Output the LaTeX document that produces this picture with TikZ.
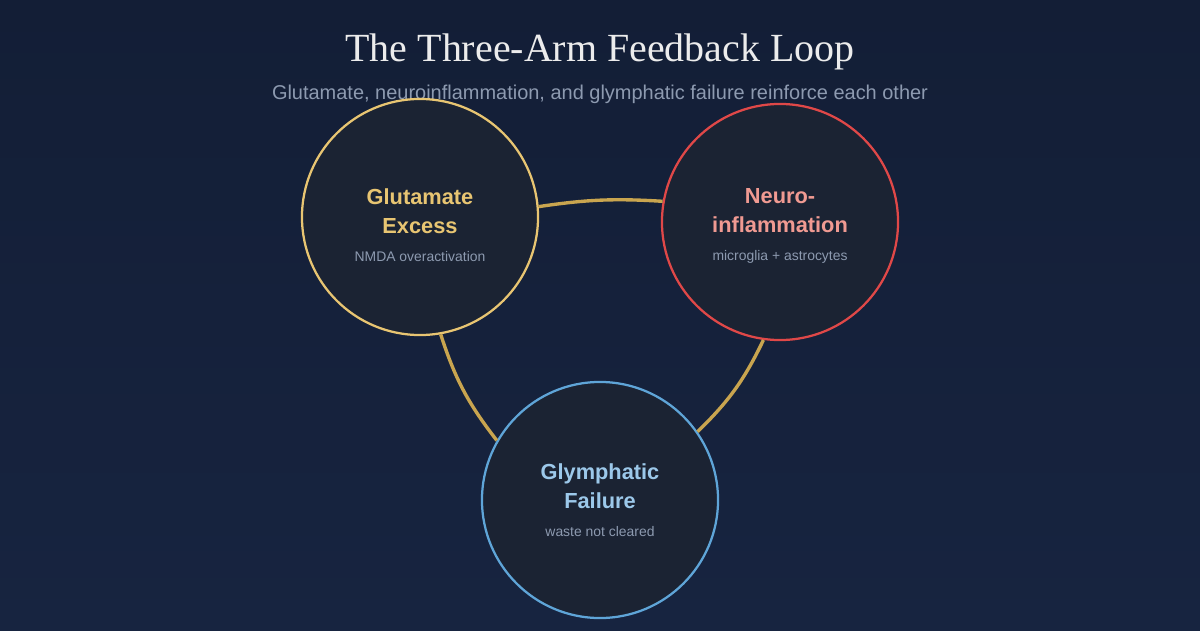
\documentclass[tikz,border=0pt]{standalone}
\usepackage{fontspec}
\setmainfont{Liberation Serif}
\newfontfamily\sansf{Liberation Sans}
\usetikzlibrary{positioning}
\definecolor{bgnavy}{HTML}{131E36}
\definecolor{bgdeep}{HTML}{172440}
\definecolor{cellfill}{HTML}{1B2333}
\definecolor{gluegold}{HTML}{E8C572}
\definecolor{inflred}{HTML}{E04848}
\definecolor{inflpink}{HTML}{F09A92}
\definecolor{glyblue}{HTML}{5FA5D8}
\definecolor{glylight}{HTML}{9CC8EA}
\definecolor{linkgold}{HTML}{C9A54F}
\definecolor{subgray}{HTML}{8D9AB0}
\definecolor{titlewhite}{HTML}{ECECEC}

\tikzset{
  arm/.style={circle, minimum size=5.9cm, line width=1.6pt, fill=cellfill, inner sep=0pt},
  armtitle/.style={font=\sansf\fontsize{15.5}{20.5}\selectfont\bfseries, align=center},
  armnote/.style={font=\sansf\fontsize{9.9}{12}\selectfont, text=subgray},
  link/.style={linkgold, line width=2.4pt}
}

\begin{document}
\begin{tikzpicture}[x=0.025cm, y=-0.025cm]
    \shade[top color=bgnavy, bottom color=bgdeep] (0,0) rectangle (1200,630);
    \useasboundingbox (0,0) rectangle (1200,630);

    % heading
    \node[text=titlewhite, font=\fontsize{28.4}{33}\selectfont] (head) at (600,52) {The Three-Arm Feedback Loop};
    \node[text=subgray, font=\sansf\fontsize{14.2}{17}\selectfont] (sub) at (600,94) {Glutamate, neuroinflammation, and glymphatic failure reinforce each other};

    % the three arms
    \node[arm, draw=gluegold] (glu) at (420,217) {};
    \node[arm, draw=inflred] (infl) at (780,222) {};
    \node[arm, draw=glyblue] (gly) at (600,500) {};

    % links
    \draw[link] (glu.5) to[bend left=6] (infl.170);
    \draw[link] (glu.-80) to[bend right=10] (gly.150);
    \draw[link] (infl.-98) to[bend left=10] (gly.35);

    % labels
    \node[armtitle, text=gluegold] (glut) at (420,211) {Glutamate\\Excess};
    \node[armnote] (glun) at (420,257) {NMDA overactivation};
    \node[armtitle, text=inflpink] (inflt) at (780,211) {Neuro-\\inflammation};
    \node[armnote] (infln) at (780,257) {microglia + astrocytes};
    \node[armtitle, text=glylight] (glyt) at (600,486) {Glymphatic\\Failure};
    \node[armnote] (glyn) at (600,532) {waste not cleared};
\end{tikzpicture}
\end{document}
